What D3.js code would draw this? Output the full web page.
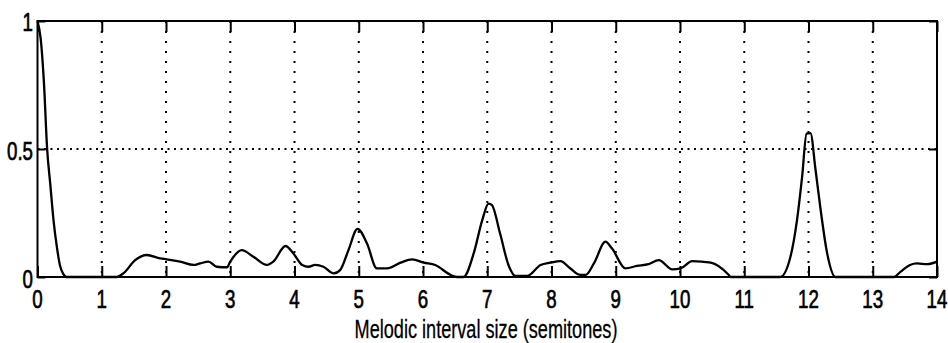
<!DOCTYPE html>
<html>
  <head>
    <meta charset="utf-8">
    <title>Melodic interval size</title>
    <script type="text/javascript" src="https://d3js.org/d3.v7.min.js"></script>
    <style type="text/css">
      body { margin: 0; background: #fff; }
      text { font-family: "Liberation Sans", Arial, sans-serif; fill: #000; }
    </style>
  </head>
  <body>
    <script type="text/javascript">

      //Curve samples (semitones, value)
      var intervals = [0.00, 0.05, 0.10, 0.15, 0.20, 0.25, 0.30, 0.35, 0.40, 0.45,
        1.23, 1.34, 1.52, 1.70, 1.91, 2.01, 2.22, 2.43, 2.53, 2.66, 2.79, 2.95,
        3.00, 3.18, 3.36, 3.57, 3.67, 3.86, 3.98, 4.12, 4.22, 4.32, 4.45, 4.61,
        4.71, 4.84, 4.98, 5.13, 5.28, 5.44, 5.65, 5.83, 6.01, 6.19, 6.43, 6.53,
        6.63, 6.79, 6.92, 7.02, 7.07, 7.20, 7.33, 7.44, 7.62, 7.83, 7.98, 8.14,
        8.29, 8.45, 8.53, 8.66, 8.84, 8.94, 9.15, 9.33, 9.51, 9.67, 9.88, 10.01,
        10.19, 10.48, 10.76, 10.79, 11.56, 11.72, 11.82, 11.90, 11.97, 12.03,
        12.11, 12.19, 12.29, 12.42, 13.33, 13.43, 13.58, 13.69, 13.85, 14.00];
      var values = [1.00, 0.93, 0.76, 0.50, 0.36, 0.22, 0.12, 0.045, 0.012, 0.0,
        0.0, 0.015, 0.066, 0.086, 0.073, 0.069, 0.060, 0.047, 0.053, 0.060, 0.040, 0.038,
        0.060, 0.105, 0.079, 0.047, 0.060, 0.121, 0.093, 0.047, 0.040, 0.047, 0.040, 0.014,
        0.027, 0.105, 0.188, 0.130, 0.034, 0.034, 0.056, 0.069, 0.056, 0.047, 0.008, 0.0,
        0.0, 0.093, 0.220, 0.287, 0.282, 0.170, 0.047, 0.004, 0.004, 0.047, 0.056, 0.062,
        0.034, 0.008, 0.008, 0.053, 0.138, 0.112, 0.034, 0.043, 0.050, 0.066, 0.030, 0.034,
        0.062, 0.056, 0.008, 0.0, 0.0, 0.08, 0.22, 0.39, 0.56, 0.562,
        0.418, 0.26, 0.093, 0.0, 0.0, 0.02, 0.047, 0.053, 0.050, 0.060];

      //Tick labels
      var xTicks = [0, 1, 2, 3, 4, 5, 6, 7, 8, 9, 10, 11, 12, 13, 14];
      var yTicks = [0, 0.5, 1];
      var yTickLabels = ["0", "0.5", "1"];
      var xTitle = "Melodic interval size (semitones)";

      //Width and height
      var w = 948;
      var h = 343;
      var padL = 37.5, padR = 937, padT = 21, padB = 277;

      var x = d3.scaleLinear().domain([0, 14]).range([padL, padR]);
      var y = d3.scaleLinear().domain([0, 1]).range([padB, padT]);

      var svg = d3.select("body")
            .append("svg")
            .attr("width", w)
            .attr("height", h);

      //Dotted grid
      svg.selectAll("line.vgrid")
         .data(xTicks.filter(function(d){ return d > 0 && d < 14; }))
         .enter()
         .append("line")
         .attr("class", "vgrid")
         .attr("x1", d => x(d)).attr("x2", d => x(d))
         .attr("y1", padT).attr("y2", padB)
         .attr("stroke", "#000")
         .attr("stroke-width", 2)
         .attr("stroke-dasharray", "2,8");

      svg.append("line")
         .attr("x1", padL).attr("x2", padR)
         .attr("y1", y(0.5)).attr("y2", y(0.5))
         .attr("stroke", "#000")
         .attr("stroke-width", 2)
         .attr("stroke-dasharray", "2,4.5");

      //Inward ticks on all four sides
      var xAxisB = d3.axisTop(x).tickValues(xTicks).tickSize(11).tickFormat("");
      var xAxisT = d3.axisBottom(x).tickValues(xTicks).tickSize(11).tickFormat("");
      var yAxisL = d3.axisRight(y).tickValues(yTicks).tickSize(8).tickFormat("");
      var yAxisR = d3.axisLeft(y).tickValues(yTicks).tickSize(8).tickFormat("");

      [[xAxisB, "translate(0," + padB + ")"], [xAxisT, "translate(0," + padT + ")"],
       [yAxisL, "translate(" + padL + ",0)"], [yAxisR, "translate(" + padR + ",0)"]]
        .forEach(function(a) {
          var g = svg.append("g").attr("transform", a[1]).call(a[0]);
          g.select(".domain").remove();
          g.selectAll("line").attr("stroke", "#000").attr("stroke-width", 2);
        });

      //The curve
      var pts = intervals.map(function(d, i){ return [d, values[i]]; });
      var line = d3.line().curve(d3.curveMonotoneX).x(d => x(d[0])).y(d => y(d[1]));
      svg.append("path")
         .datum(pts)
         .attr("d", line)
         .attr("fill", "none")
         .attr("stroke", "#000")
         .attr("stroke-width", 2.3)
         .attr("stroke-linejoin", "round");

      //Box
      svg.append("rect")
         .attr("x", padL).attr("y", padT)
         .attr("width", padR - padL).attr("height", padB - padT)
         .attr("fill", "none")
         .attr("stroke", "#000")
         .attr("stroke-width", 2);

      //Tick labels, narrow and tall like the original
      svg.selectAll("text.xl")
         .data(xTicks)
         .enter()
         .append("text")
         .attr("class", "xl")
         .attr("transform", d => "translate(" + x(d) + ",308) scale(0.72,1)")
         .attr("text-anchor", "middle")
         .attr("font-size", 26)
         .attr("stroke", "#000")
         .attr("stroke-width", 0.7)
         .text(d => d);

      var yBase = [288, 160, 31];
      svg.selectAll("text.yl")
         .data(yTicks)
         .enter()
         .append("text")
         .attr("class", "yl")
         .attr("transform", (d, i) => "translate(33," + yBase[i] + ") scale(0.72,1)")
         .attr("text-anchor", "end")
         .attr("font-size", 26)
         .attr("stroke", "#000")
         .attr("stroke-width", 0.7)
         .text((d, i) => yTickLabels[i]);

      //Axis title, squeezed to the original width
      var t = svg.append("text")
         .attr("text-anchor", "middle")
         .attr("font-size", 25)
         .attr("stroke", "#000")
         .attr("stroke-width", 0.3)
         .text(xTitle);
      var tw = t.node().getComputedTextLength();
      t.attr("transform", "translate(486,338) scale(" + (263 / tw) + ",1)");

    </script>
  </body>
</html>
